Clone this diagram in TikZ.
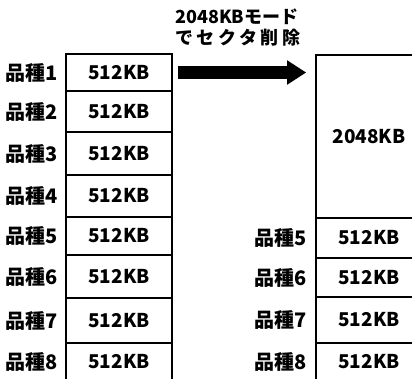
\documentclass[tikz,border=0pt]{standalone}
\usepackage{fontspec}
\newfontfamily\jpfont{Noto Sans CJK JP}
\usetikzlibrary{positioning,arrows.meta}
\tikzset{
  cell/.style={draw,line width=1.6pt,minimum width=106pt,inner sep=0pt,font=\jpfont\bfseries\fontsize{19}{21}\selectfont},
  tag/.style={inner sep=0pt,font=\jpfont\bfseries\fontsize{20}{21}\selectfont},
  notetext/.style={inner sep=0pt,align=left,font=\jpfont\bfseries\fontsize{18}{21}\selectfont},
  bigarrow/.style={line width=13pt,-{Triangle[length=19pt,width=23pt]}},
  every picture/.style={x=1pt,y=-1pt}
}
\begin{document}
\begin{tikzpicture}
  \useasboundingbox (0,0) rectangle (412,378);
  \clip (0,0) rectangle (412,378);
  % before
  \node[cell,minimum height=37pt] (l1) at (119,72.5) {512KB};
  \node[cell,minimum height=41pt] (l2) at (119,111.5) {512KB};
  \node[cell,minimum height=43pt] (l3) at (119,153.5) {512KB};
  \node[cell,minimum height=42pt] (l4) at (119,196) {512KB};
  \node[cell,minimum height=38pt] (l5) at (119,236) {512KB};
  \node[cell,minimum height=43pt] (l6) at (119,276.5) {512KB};
  \node[cell,minimum height=45pt] (l7) at (119,320.5) {512KB};
  \node[cell,minimum height=38pt] (l8) at (119,362) {512KB};
  \node[tag,left=7pt of l1] {品種1}; \node[tag,left=7pt of l2] {品種2};
  \node[tag,left=7pt of l3] {品種3}; \node[tag,left=7pt of l4] {品種4};
  \node[tag,left=7pt of l5] {品種5}; \node[tag,left=7pt of l6] {品種6};
  \node[tag,left=7pt of l7] {品種7}; \node[tag,left=7pt of l8] {品種8};
  % after
  \node[cell,minimum height=163pt] (big) at (369,136.5) {2048KB};
  \node[cell,minimum height=40pt] (r5) at (369,238) {512KB};
  \node[cell,minimum height=39pt] (r6) at (369,277.5) {512KB};
  \node[cell,minimum height=46pt] (r7) at (369,320) {512KB};
  \node[cell,minimum height=38pt] (r8) at (369,362) {512KB};
  \node[tag,left=8pt of r5] {品種5}; \node[tag,left=8pt of r6] {品種6};
  \node[tag,left=8pt of r7] {品種7}; \node[tag,left=8pt of r8] {品種8};
  % erase step
  \draw[bigarrow] ([xshift=5pt]l1.east) -- ([xshift=-9pt]l1.east -| big.west);
  \node[notetext,anchor=north west] (note) at (175,9) {2048KBモード\\{\addfontfeature{LetterSpace=20}でセクタ削除}};
\end{tikzpicture}
\end{document}
